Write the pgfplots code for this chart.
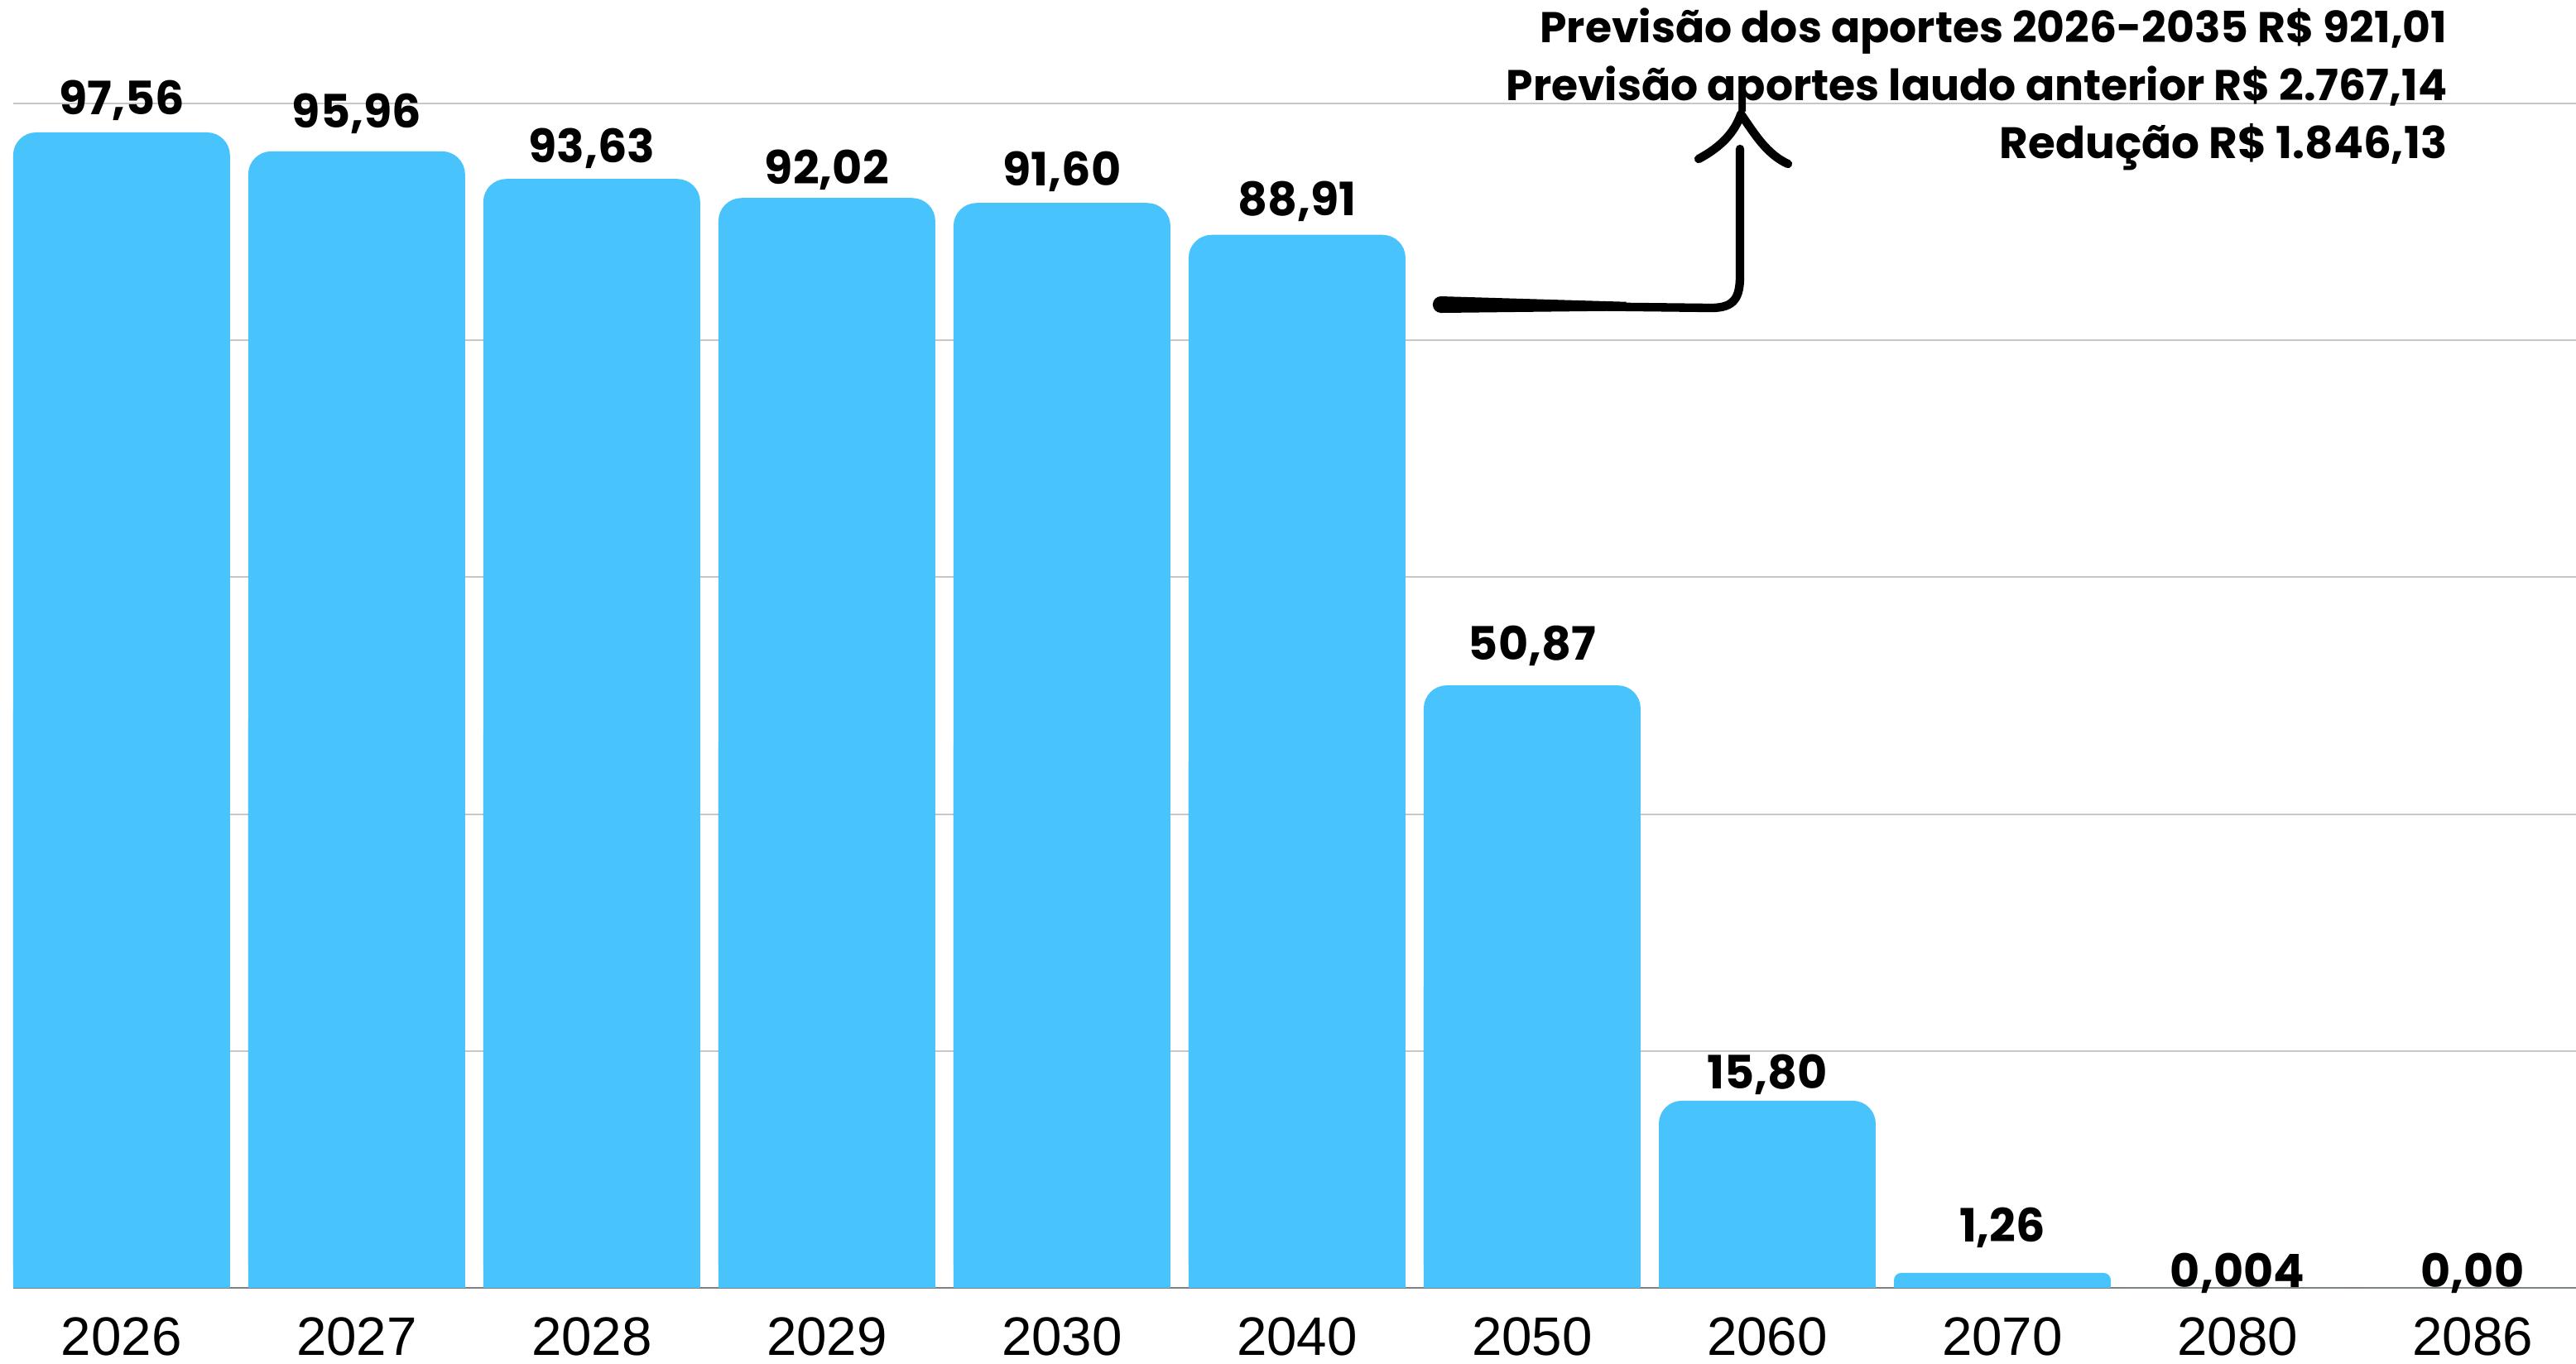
\documentclass[border=0pt]{standalone}
\usepackage{pgfplots}
\pgfplotsset{compat=1.18}
\usepackage{pgfplotstable}
\usepackage{fontspec}
\setmainfont{Liberation Sans}
\newfontfamily\labfont{Poppins}
\definecolor{barblue}{RGB}{73,195,252}

\pgfplotstableread{
x year val lab ly
0 2026 97.56 97,56 99.07
1 2027 95.96 95,96 97.92
2 2028 93.63 93,63 94.99
3 2029 92.02 92,02 93.20
4 2030 91.60 91,60 93.04
5 2040 88.91 88,91 90.53
6 2050 50.87 50,87 53.02
7 2060 15.80 15,80 16.84
8 2070 1.26 1,26 3.91
9 2080 0.004 0,004 0
10 2086 0.00 0,00 0
}\data

\begin{document}
\begin{tikzpicture}
\begin{axis}[
  scale only axis,
  width=780pt, height=392pt,
  xmin=-0.461, xmax=10.44,
  ymin=0, ymax=108.74,
  clip=false,
  axis line style={draw=none},
  major tick length=0pt,
  ytick={20,40,60,80,100},
  yticklabels={},
  ymajorgrids,
  grid style={draw=black!22, line width=0.5pt},
  extra y ticks={0},
  extra y tick labels={},
  extra y tick style={grid style={draw=black!50, line width=0.6pt}},
  xtick={0,...,10},
  xticklabels={2026,2027,2028,2029,2030,2040,2050,2060,2070,2080,2086},
  xticklabel style={font=\fontsize{16.5}{18}\selectfont, anchor=base, inner sep=0pt, yshift=-20.6pt},
]
% bars with rounded tops
\addplot[ybar, bar width=66pt, bar shift=0pt, fill=barblue, draw=none, rounded corners=7pt,
  skip coords between index={8}{11}] table[x=x, y=val]{\data};
\addplot[ybar, bar width=66pt, bar shift=0pt, fill=barblue, draw=none, sharp corners,
  skip coords between index={8}{11}] table[x=x, y expr=\thisrow{val}/2]{\data};
\addplot[ybar, bar width=66pt, bar shift=0pt, fill=barblue, draw=none, rounded corners=2.2pt,
  skip coords between index={0}{8}, skip coords between index={9}{11}] table[x=x, y=val]{\data};
\addplot[ybar, bar width=66pt, bar shift=0pt, fill=barblue, draw=none, sharp corners,
  skip coords between index={0}{8}, skip coords between index={9}{11}] table[x=x, y expr=\thisrow{val}/2]{\data};
\addplot[ybar, bar width=66pt, bar shift=0pt, fill=barblue, draw=none, sharp corners,
  skip coords between index={0}{9}] table[x=x, y=val]{\data};
% value labels
\addplot[only marks, mark=none, point meta=explicit symbolic,
  nodes near coords,
  every node near coord/.append style={anchor=base, inner sep=0pt, font=\labfont\bfseries\fontsize{14}{16}\selectfont, text=black}]
  table[x=x, y=ly, meta=lab]{\data};
% annotation
\node[anchor=base east, inner sep=0pt, font=\labfont\bfseries\fontsize{13.1}{15}\selectfont] at (axis cs:9.895,105.13) {Previsão dos aportes 2026-2035 R\$ 921,01};
\node[anchor=base east, inner sep=0pt, font=\labfont\bfseries\fontsize{13.1}{15}\selectfont] at (axis cs:9.895,100.24) {Previsão aportes laudo anterior R\$ 2.767,14};
\node[anchor=base east, inner sep=0pt, font=\labfont\bfseries\fontsize{13.4}{15}\selectfont] at (axis cs:9.895,95.35) {Redução R\$ 1.846,13};
% hand-drawn arrow
\fill (axis cs:5.609,83.72) -- (axis cs:6.4,83.25) -- (axis cs:6.4,82.5) -- (axis cs:5.609,82.32) -- cycle;
\draw[line width=5pt, line cap=round] (axis cs:5.612,83.02) -- (axis cs:5.62,83.02);
\draw[line width=2.6pt, line cap=round, line join=round]
  (axis cs:5.62,83.0) -- (axis cs:6.761,82.74)
  .. controls (axis cs:6.86,82.74) and (axis cs:6.884,83.6) .. (axis cs:6.884,85.47)
  -- (axis cs:6.884,96.16);
\draw[line width=2.6pt, line cap=round, line join=round]
  (axis cs:6.708,95.32) .. controls (axis cs:6.8,96.3) and (axis cs:6.86,97.5) .. (axis cs:6.888,99.1)
  .. controls (axis cs:6.95,97.3) and (axis cs:7.0,95.7) .. (axis cs:7.088,94.9);
\coordinate (bbsw) at (axis cs:-0.517,-6.38);
\coordinate (bbne) at (axis cs:10.44,108.74);
\end{axis}
\pgfresetboundingbox
\path[use as bounding box] (bbsw) rectangle (bbne);
\end{tikzpicture}
\end{document}
